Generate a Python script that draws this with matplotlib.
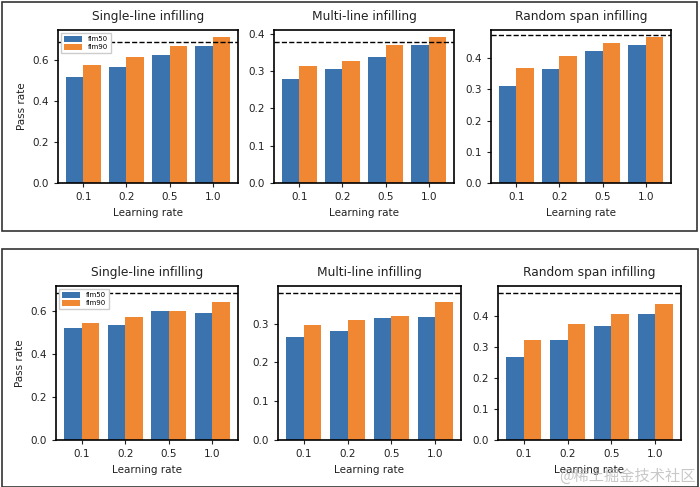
import numpy as np
import matplotlib
matplotlib.use("Agg")
import matplotlib.pyplot as plt
from matplotlib.patches import Rectangle

# learning rates on the x axis
lr_labels = ["0.1", "0.2", "0.5", "1.0"]
titles = ["Single-line infilling", "Multi-line infilling", "Random span infilling"]

# top figure (fim50 / fim90 pass rates) + dashed baseline
top_fim50 = [[0.514, 0.564, 0.621, 0.665],
             [0.278, 0.305, 0.337, 0.370],
             [0.311, 0.364, 0.422, 0.443]]
top_fim90 = [[0.576, 0.611, 0.667, 0.709],
             [0.313, 0.327, 0.370, 0.390],
             [0.368, 0.408, 0.450, 0.467]]
top_base = [0.686, 0.378, 0.475]

# bottom figure
bot_fim50 = [[0.517, 0.534, 0.596, 0.589],
             [0.266, 0.282, 0.315, 0.318],
             [0.267, 0.324, 0.369, 0.405]]
bot_fim90 = [[0.541, 0.568, 0.599, 0.639],
             [0.296, 0.308, 0.319, 0.356],
             [0.324, 0.375, 0.406, 0.440]]
bot_base = [0.680, 0.378, 0.473]

BLUE = "#3a73ae"
ORANGE = "#ef8733"
W, H = 700, 487

fig = plt.figure(figsize=(W / 100, H / 100), dpi=100)


def px_axes(l, t, r, b):
    return fig.add_axes([l / W, 1 - b / H, (r - l) / W, (b - t) / H])


def draw_panel(ax, fim50, fim90, base, title, first):
    x = np.arange(len(lr_labels))
    ax.bar(x - 0.2, fim50, width=0.4, color=BLUE, label="fim50")
    ax.bar(x + 0.2, fim90, width=0.4, color=ORANGE, label="fim90")
    ax.axhline(base, color="black", ls="--", lw=1)
    ax.set_xticks(x)
    ax.set_xticklabels(lr_labels)
    ax.tick_params(labelsize=7.5, length=3, width=0.8, colors="#222222")
    ax.set_xlabel("Learning rate", fontsize=7.5, color="#222222")
    ax.set_title(title, fontsize=8.8, pad=7, color="#222222")
    for s in ax.spines.values():
        s.set_linewidth(1.2)
    if first:
        ax.set_ylabel("Pass rate", fontsize=7.5, color="#222222")
        ax.legend(loc="upper left", fontsize=5, handlelength=2.6, handleheight=0.8,
                  borderpad=0.4, labelspacing=0.3, fancybox=False, framealpha=1)


top_boxes = [(58, 30, 238, 183), (274, 30, 454, 183), (491, 30, 671, 183)]
bot_boxes = [(56, 286, 238, 440), (278, 286, 461, 440), (498, 286, 681, 440)]

for i in range(3):
    ax = px_axes(*top_boxes[i])
    draw_panel(ax, top_fim50[i], top_fim90[i], top_base[i], titles[i], i == 0)
    ax = px_axes(*bot_boxes[i])
    draw_panel(ax, bot_fim50[i], bot_fim90[i], bot_base[i], titles[i], i == 0)

# frames around the two original figures
for (l, t, r, b) in [(1.5, 1.5, 697, 231), (1.5, 249, 698, 486.5)]:
    fig.add_artist(Rectangle((l / W, 1 - b / H), (r - l) / W, (b - t) / H,
                             transform=fig.transFigure, fill=False,
                             edgecolor="#333333", lw=1.2))

# site watermark
fig.text(696 / W, 1 - 476 / H, "@稀土掘金技术社区", ha="right", va="center",
         fontsize=11, color="#bbbbbb", alpha=0.8,
         family=["Noto Sans CJK SC", "DejaVu Sans"])

fig.savefig("out.png", dpi=100)
